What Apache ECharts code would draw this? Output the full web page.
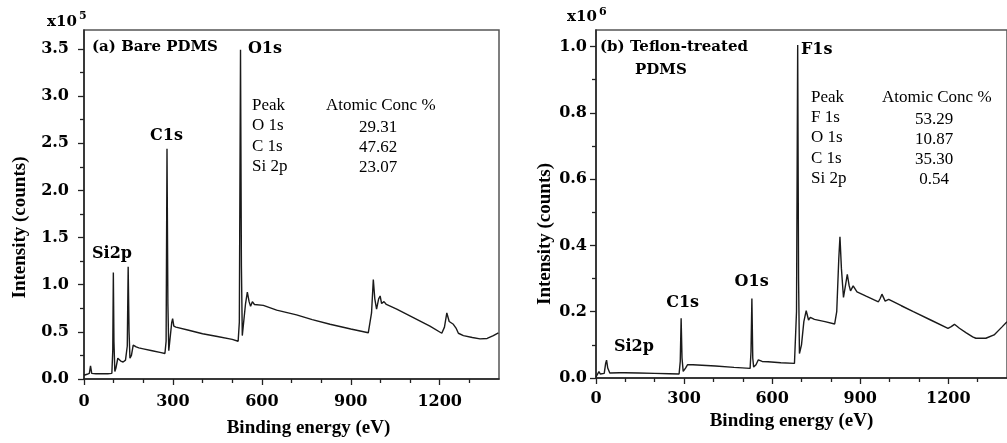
<!DOCTYPE html>
<html><head><meta charset="utf-8">
<script src="https://cdn.jsdelivr.net/npm/echarts@6/dist/echarts.min.js"></script>
<style>html,body{margin:0;padding:0;background:#fff}#c{width:1007px;height:443px}</style>
</head><body><div id="c"></div>
<script>
// ---------- data (a) Bare PDMS, intensity in units of 1e5 counts ----------
const bareEnergy = [0,10,18,22,26,40,60,80,94,97,99,101,104,108,114,118,124,132,140,146,149,152,155,160,166,170,176,185,200,230,260,273,277,280,283,286,290,296,299,303,310,350,400,450,500,520,524,528,531,534,537,545,551,557,562,568,575,605,650,717,770,830,900,959,970,976,981,987,994,999,1004,1007,1012,1020,1055,1111,1167,1207,1216,1224,1232,1246,1255,1263,1280,1310,1336,1360,1381,1398];
const bareIntensity = [0.04,0.05,0.06,0.14,0.06,0.055,0.055,0.055,0.06,0.3,1.13,0.4,0.08,0.12,0.22,0.23,0.19,0.18,0.2,0.35,1.19,0.5,0.22,0.25,0.36,0.37,0.34,0.33,0.32,0.30,0.28,0.27,0.4,2.44,0.8,0.3,0.32,0.6,0.64,0.56,0.55,0.52,0.48,0.45,0.42,0.40,0.6,3.49,1.2,0.46,0.45,0.8,0.92,0.82,0.77,0.82,0.79,0.78,0.73,0.68,0.63,0.58,0.53,0.49,0.7,1.055,0.85,0.74,0.85,0.88,0.8,0.78,0.82,0.79,0.74,0.65,0.56,0.485,0.55,0.70,0.61,0.58,0.54,0.485,0.46,0.44,0.425,0.43,0.46,0.49];

// ---------- data (b) Teflon-treated PDMS, intensity in units of 1e6 counts ----------
const teflonEnergy = [0,5,10,15,20,28,33,36,40,47,80,98,100,103,145,148,151,200,250,283,287,290,293,297,305,312,317,330,407,470,525,528,531,534,537,545,553,558,566,586,630,676,683,687,690,693,700,708,716,724,730,744,780,813,820,827,831,836,843,850,856,862,867,876,889,920,962,968,974,985,997,1040,1081,1140,1199,1210,1221,1238,1260,1283,1294,1328,1356,1384,1400];
const teflonIntensity = [0.003,0.008,0.019,0.012,0.009,0.014,0.045,0.054,0.03,0.015,0.016,0.016,0.019,0.016,0.015,0.018,0.015,0.014,0.013,0.012,0.05,0.18,0.06,0.02,0.03,0.04,0.042,0.04,0.036,0.032,0.029,0.08,0.24,0.06,0.033,0.04,0.055,0.056,0.05,0.049,0.046,0.044,0.2,1.005,0.3,0.074,0.1,0.17,0.203,0.175,0.183,0.177,0.17,0.163,0.2,0.36,0.426,0.33,0.243,0.28,0.313,0.28,0.263,0.278,0.26,0.247,0.23,0.24,0.253,0.232,0.237,0.218,0.20,0.175,0.15,0.155,0.162,0.15,0.137,0.124,0.12,0.12,0.13,0.155,0.17];

// ---------- peak labels: [text, energy, intensity] ----------
const barePeakLabels = [['O1s',553,3.50],['C1s',223,2.58],['Si2p',27,1.33]];
const teflonPeakLabels = [['F1s',698,0.991],['O1s',472,0.289],['C1s',239,0.226],['Si2p',61,0.093]];

// ---------- composition tables ----------
const barePeaks = ['O 1s','C 1s','Si 2p'];
const bareConc = ['29.31','47.62','23.07'];
const teflonPeaks = ['F 1s','O 1s','C 1s','Si 2p'];
const teflonConc = ['53.29','10.87','35.30','0.54'];

// ---------- ticks ----------
const xMajorTicks = [0,300,600,900,1200];
const xMinorTicks = [100,200,400,500,700,800,1000,1100,1300];
const bareYMajor = [0,0.5,1.0,1.5,2.0,2.5,3.0,3.5];
const bareYMinor = [0.25,0.75,1.25,1.75,2.25,2.75,3.25];
const teflonYMajor = [0,0.2,0.4,0.6,0.8,1.0];
const teflonYMinor = [0.1,0.3,0.5,0.7,0.9];

const TF = 'DejaVu Serif';
const TITLEF = 'Liberation Serif';
const AXC = '#222';

function pairs(xs, ys){ return xs.map((x,i)=>[x, ys[i]]); }

function xAxes(grid, majorMargin, nameGap){
  return [{
    gridIndex: grid, type:'value', min:0, max:1400, position:'bottom',
    axisLine:{show:true, lineStyle:{color:AXC, width:1.5}},
    axisTick:{show:true, customValues:xMajorTicks, length:6, lineStyle:{color:AXC, width:1.3}},
    axisLabel:{customValues:xMajorTicks, margin:majorMargin, color:'#000', fontFamily:TF, fontWeight:'bold', fontSize:16,
      formatter:v=>String(v)},
    splitLine:{show:false},
    name:'Binding energy (eV)', nameLocation:'middle', nameGap:nameGap,
    nameTextStyle:{fontFamily:TITLEF, fontWeight:'bold', fontSize:19, color:'#000', padding:[0,0,0,grid===0?34:-20]}
  },{
    gridIndex: grid, type:'value', min:0, max:1400, position:'bottom',
    axisLine:{show:false},
    axisTick:{show:true, customValues:xMinorTicks, length:4, lineStyle:{color:AXC, width:1.3}},
    axisLabel:{show:false}, splitLine:{show:false}
  }];
}
function yAxes(grid, max, major, minor, margin, nameGap){
  return [{
    gridIndex: grid, type:'value', min:0, max:max, position:'left',
    axisLine:{show:true, lineStyle:{color:AXC, width:1.5}},
    axisTick:{show:true, customValues:major, length:6, lineStyle:{color:AXC, width:1.3}},
    axisLabel:{customValues:major, margin:margin, color:'#000', fontFamily:TF, fontWeight:'bold', fontSize:16,
      formatter:v=>Number(v).toFixed(1)},
    splitLine:{show:false},
    name:'Intensity (counts)', nameLocation:'middle', nameGap:nameGap, nameRotate:90,
    nameTextStyle:{fontFamily:TITLEF, fontWeight:'bold', fontSize:19, color:'#000', padding:[0,grid===0?46:60,0,0]}
  },{
    gridIndex: grid, type:'value', min:0, max:max, position:'left',
    axisLine:{show:false},
    axisTick:{show:true, customValues:minor, length:4, lineStyle:{color:AXC, width:1.3}},
    axisLabel:{show:false}, splitLine:{show:false}
  }];
}
function peakMarks(list){
  return {
    symbol:'circle', symbolSize:0, silent:true, animation:false,
    label:{show:true, formatter:'{b}', position:[0,0], align:'left', verticalAlign:'middle',
      color:'#000', fontFamily:TF, fontWeight:'bold', fontSize:16},
    data: list.map(p=>({name:p[0], coord:[p[1],p[2]]}))
  };
}
function tableGraphics(x0, xVal, yHeader, rowH, peaks, conc){
  const st = {fontFamily:TITLEF, fontSize:17, fill:'#000'};
  const g = [
    {type:'text', left:x0, top:yHeader-10, style:Object.assign({text:'Peak'}, st)},
    {type:'text', left:xVal-52, top:yHeader-10, style:Object.assign({text:'Atomic Conc %'}, st)}
  ];
  peaks.forEach((p,i)=>{
    g.push({type:'text', left:x0, top:yHeader+rowH*(i+1)-10, style:Object.assign({text:p}, st)});
    g.push({type:'text', x:xVal, y:yHeader+rowH*(i+1), style:Object.assign({text:conc[i], align:'center', verticalAlign:'middle'}, st)});
  });
  return g;
}

const chart = echarts.init(document.getElementById('c'));
const option = {
  animation:false,
  backgroundColor:'#fff',
  grid:[
    {left:84, top:30, width:415, height:351, show:true, borderColor:'#555', borderWidth:1.5},
    {left:596, top:30, width:415, height:348, show:true, borderColor:'#555', borderWidth:1.5}
  ],
  xAxis:[...xAxes(0,15,40), ...xAxes(1,13,33)],
  yAxis:[...yAxes(0,3.7,bareYMajor,bareYMinor,15,54), ...yAxes(1,1.05,teflonYMajor,teflonYMinor,9,41)],
  series:[
    {type:'line', xAxisIndex:0, yAxisIndex:0, data:pairs(bareEnergy,bareIntensity), showSymbol:false,
      lineStyle:{color:'#1a1a1a', width:1.4}, markPoint:peakMarks(barePeakLabels)},
    {type:'line', xAxisIndex:2, yAxisIndex:2, data:pairs(teflonEnergy,teflonIntensity), showSymbol:false,
      lineStyle:{color:'#1a1a1a', width:1.4}, markPoint:peakMarks(teflonPeakLabels)}
  ],
  graphic:[
    {type:'text', left:47, top:15, style:{text:'x10', fontFamily:TF, fontWeight:'bold', fontSize:15, fill:'#000'}},
    {type:'text', left:79, top:11, style:{text:'5', fontFamily:TF, fontWeight:'bold', fontSize:11, fill:'#000'}},
    {type:'text', left:567, top:10, style:{text:'x10', fontFamily:TF, fontWeight:'bold', fontSize:15, fill:'#000'}},
    {type:'text', left:599, top:7, style:{text:'6', fontFamily:TF, fontWeight:'bold', fontSize:11, fill:'#000'}},
    {type:'text', left:92, top:40, style:{text:'(a) Bare PDMS', fontFamily:TF, fontWeight:'bold', fontSize:15, fill:'#000'}},
    {type:'text', left:600, top:40, style:{text:'(b) Teflon-treated', fontFamily:TF, fontWeight:'bold', fontSize:15, fill:'#000'}},
    {type:'text', left:635, top:63, style:{text:'PDMS', fontFamily:TF, fontWeight:'bold', fontSize:15, fill:'#000'}},
    ...tableGraphics(252, 378, 107, 20.3, barePeaks, bareConc),
    ...tableGraphics(811, 934, 99, 20.2, teflonPeaks, teflonConc)
  ]
};
chart.setOption(option);
</script></body></html>
